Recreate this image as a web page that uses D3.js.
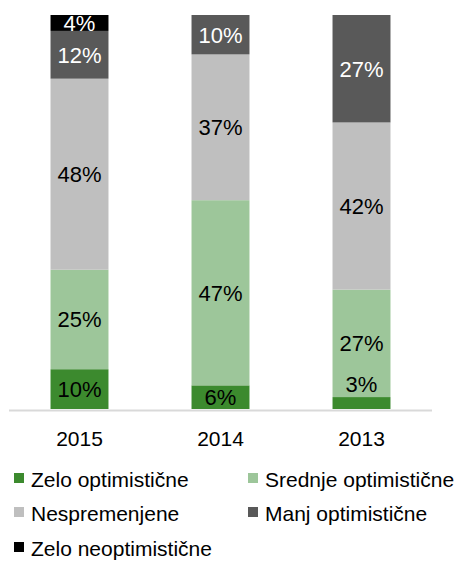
<!DOCTYPE html>
<html><head><meta charset="utf-8">
<script src="https://cdn.jsdelivr.net/npm/d3@7"></script>
<style>body{margin:0;background:#fff}svg{display:block;font-family:"Liberation Sans",Arial,sans-serif}</style>
</head><body><svg id="c" width="456" height="561"></svg>
<script>
const categories = ["2015", "2014", "2013"];
const seriesNames = ["Zelo optimistične", "Srednje optimistične", "Nespremenjene", "Manj optimistične", "Zelo neoptimistične"];
const zeloOptimisticne = [10, 6, 3];
const srednjeOptimisticne = [25, 47, 27];
const nespremenjene = [48, 37, 42];
const manjOptimisticne = [12, 10, 27];
const zeloNeoptimisticne = [4, 0, 0];
const colors = ["#3c8a2e", "#9dc69a", "#bfbfbf", "#595959", "#000000"];
const labelColors = ["#000", "#000", "#000", "#fff", "#fff"];

const seriesValues = [zeloOptimisticne, srednjeOptimisticne, nespremenjene, manjOptimisticne, zeloNeoptimisticne];
const rows = categories.map((c, i) => {
  const r = {cat: c};
  seriesNames.forEach((s, j) => r[s] = seriesValues[j][i]);
  return r;
});
const stack = d3.stack().keys(seriesNames).offset(d3.stackOffsetExpand);
const stacked = stack(rows);

const svg = d3.select("#c");
const x = d3.scaleBand().domain(categories).range([9, 432]).paddingInner(0.589).paddingOuter(0.2945);
const y = d3.scaleLinear().domain([0, 1]).range([409, 15]);

const g = svg.append("g");
stacked.forEach((layer, j) => {
  layer.forEach((d, i) => {
    const v = seriesValues[j][i];
    if (!v) return;
    const y0 = y(d[0]), y1 = y(d[1]);
    g.append("rect").attr("x", x(categories[i])).attr("width", x.bandwidth())
      .attr("y", y1).attr("height", y0 - y1).attr("fill", colors[j]);
  });
});
// labels
stacked.forEach((layer, j) => {
  layer.forEach((d, i) => {
    const v = seriesValues[j][i];
    if (!v) return;
    const y0 = y(d[0]), y1 = y(d[1]);
    const h = y0 - y1;
    const cy = h < 14 ? y1 - 13 : (y0 + y1) / 2;
    g.append("text").attr("x", x(categories[i]) + x.bandwidth() / 2).attr("y", cy)
      .attr("dy", "0.36em").attr("text-anchor", "middle").attr("font-size", 22)
      .attr("fill", labelColors[j]).text(v + "%");
  });
});
// axis
const ax = svg.append("g").attr("transform", "translate(0,410)")
  .call(d3.axisBottom(x).tickSize(0).tickPadding(0));
ax.select(".domain").attr("stroke", "#d9d9d9").attr("stroke-width", 2).attr("d", "M9,0.5H432");
ax.selectAll("text").attr("font-size", 21).attr("fill", "#000").attr("font-family", "Liberation Sans, Arial, sans-serif")
  .attr("dy", null).attr("y", 36);

// legend
const legPos = [[14, 487], [248, 487], [14, 521], [248, 521], [14, 556]];
seriesNames.forEach((s, j) => {
  const [lx, ly] = legPos[j];
  svg.append("rect").attr("x", lx).attr("y", ly - 14).attr("width", 10).attr("height", 10).attr("fill", colors[j]);
  svg.append("text").attr("x", lx + 17).attr("y", ly).attr("font-size", 21).attr("fill", "#000").text(s);
});
</script></body></html>
